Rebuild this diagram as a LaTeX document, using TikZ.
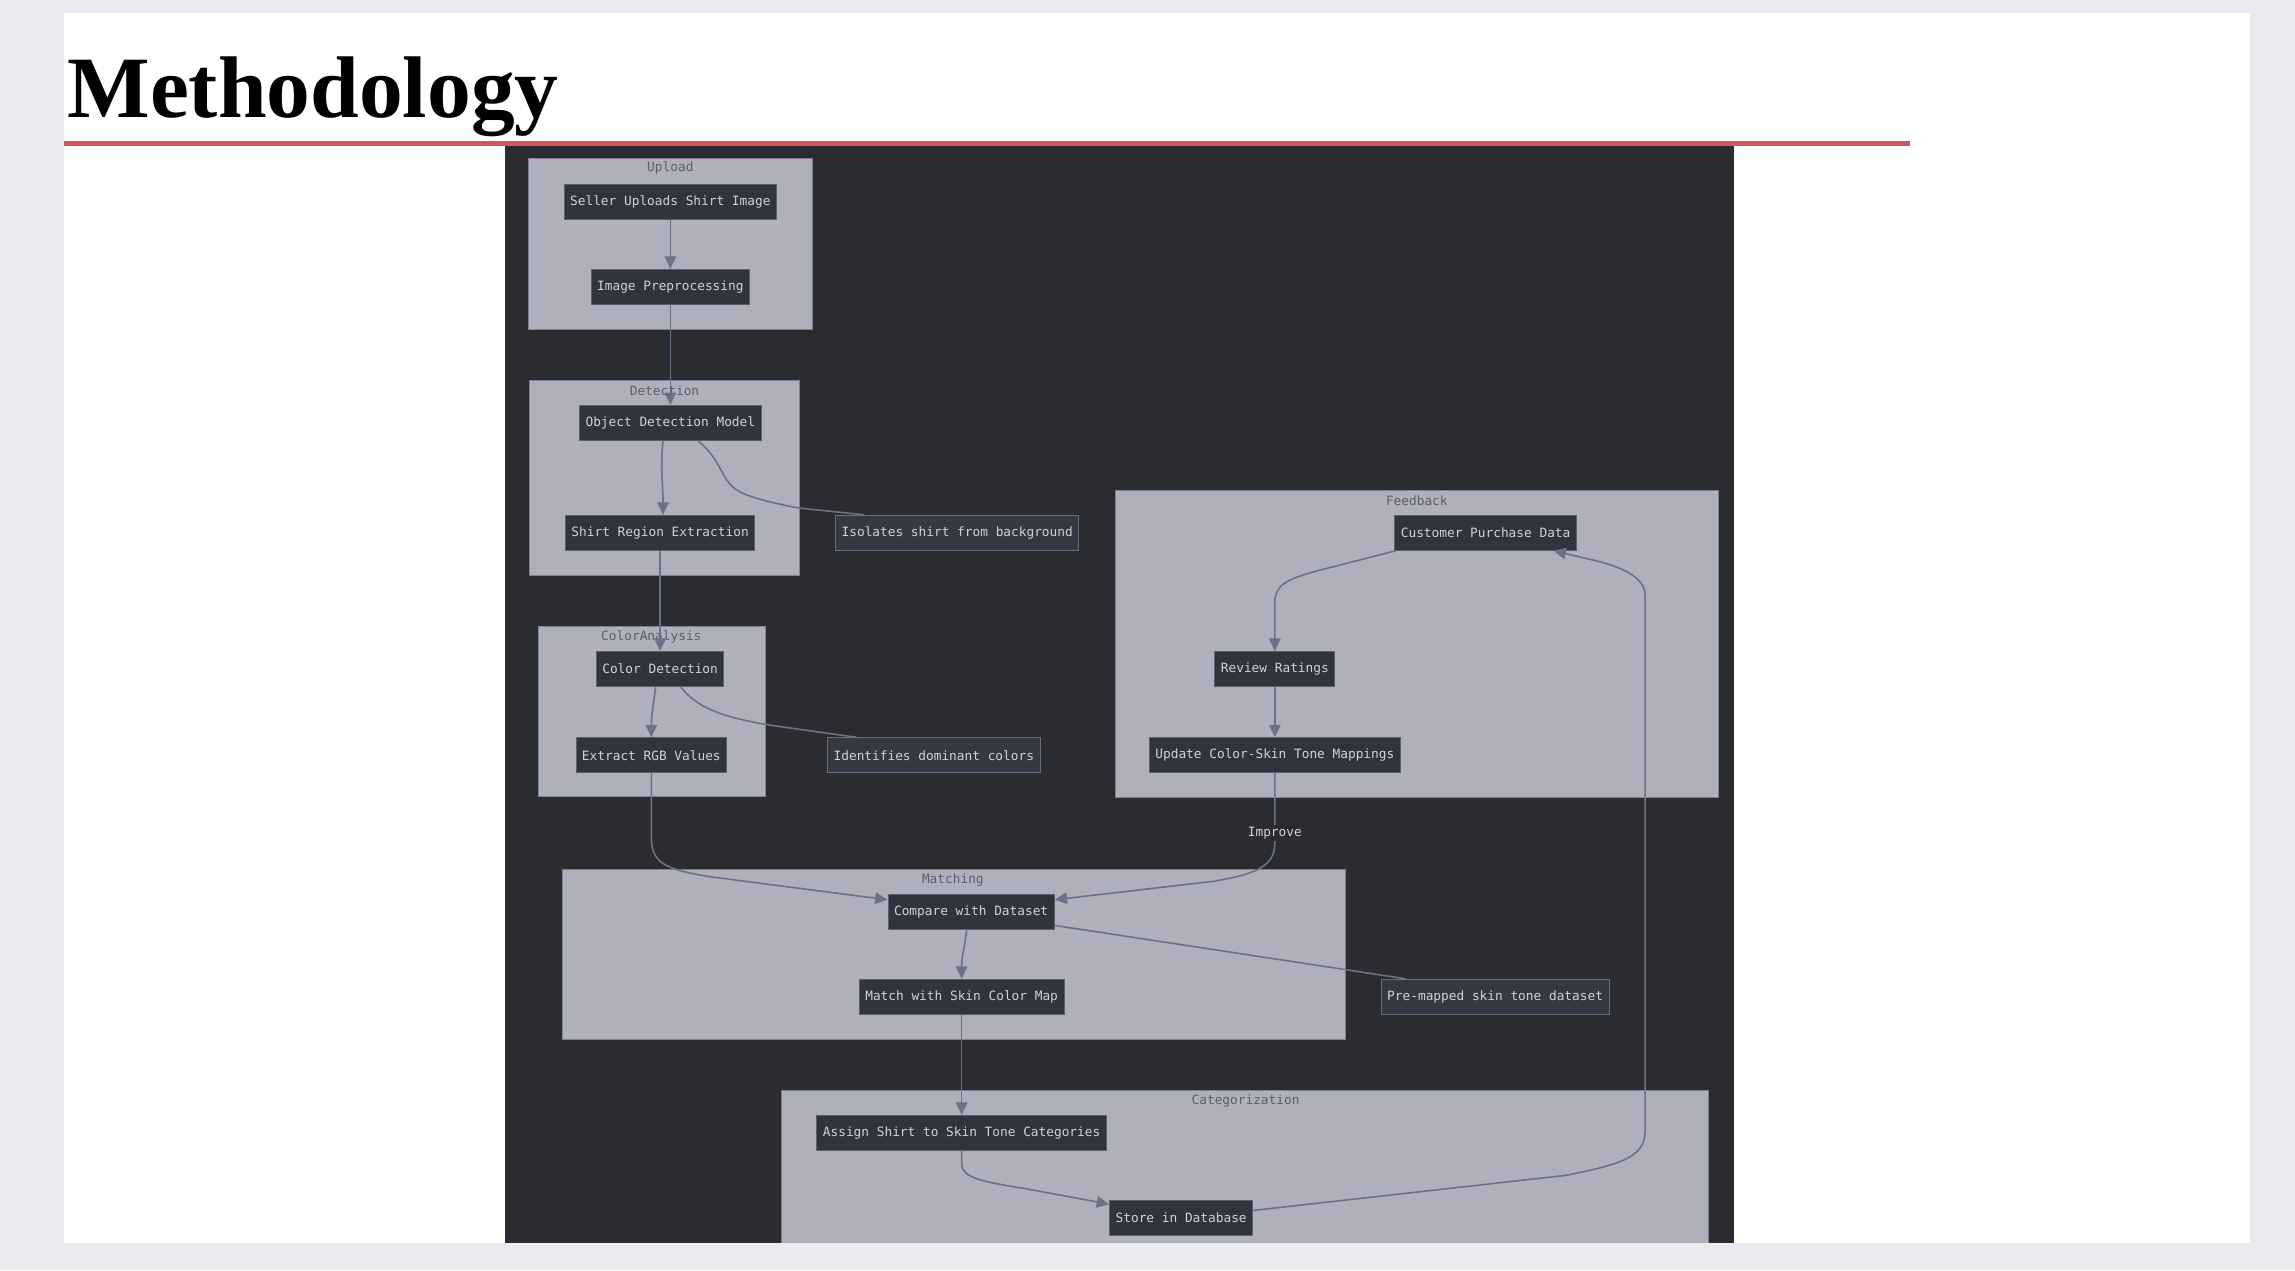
\documentclass[tikz,border=0pt]{standalone}
\usepackage{fontspec}
\usetikzlibrary{arrows.meta,calc}
\newfontfamily\titlefont{Liberation Serif}
\newfontfamily\monofont{DejaVu Sans Mono}
\definecolor{outerbg}{HTML}{E9EAEE}
\definecolor{redline}{HTML}{D2545E}
\definecolor{panel}{HTML}{2B2C31}
\definecolor{grpfill}{HTML}{AFB0BB}
\definecolor{grpborder}{HTML}{7E8193}
\definecolor{grptext}{HTML}{5C5E6B}
\definecolor{nodefill}{HTML}{32343D}
\definecolor{nodeborder}{HTML}{5C5F6E}
\definecolor{notefill}{HTML}{363843}
\definecolor{noteborder}{HTML}{6A6D7E}
\definecolor{nodetext}{HTML}{D2D2D4}
\definecolor{edgecol}{HTML}{6E7185}
\tikzset{
  box/.style={draw=nodeborder, fill=nodefill, text=nodetext, line width=0.9pt,
    font=\monofont\fontsize{12.8}{14}\selectfont, inner xsep=6pt, inner ysep=0pt, minimum height=35pt},
  notebox/.style={box, draw=noteborder, fill=notefill},
  grp/.style={draw=grpborder, fill=grpfill, line width=1pt},
  grplabel/.style={text=grptext, font=\monofont\fontsize{12.8}{14}\selectfont, inner sep=0pt},
  edge/.style={draw=edgecol, line width=1.6pt, -{Triangle[length=12.5pt,width=11.5pt]}},
  link/.style={draw=edgecol, line width=1.6pt},
  lbl/.style={fill=panel, text=nodetext, font=\monofont\fontsize{12.8}{14}\selectfont, inner sep=2pt}
}
\begin{document}
\begin{tikzpicture}[x=1.4636pt,y=-1.4636pt]
\useasboundingbox (0,0) rectangle (1568,868);
\fill[outerbg] (0,0) rectangle (1568,868);
\fill[white] (44,9) rectangle (1537,849);
\node[anchor=base west, inner sep=0pt, font=\titlefont\bfseries\fontsize{87.5}{90}\selectfont] (title) at (46,80) {Methodology};
\fill[redline] (44,96.5) rectangle (1305,99.5);
\fill[panel] (345,99.5) rectangle (1185,849);

% subgraphs
\draw[grp] (361,108) rectangle (555,225);
\node[grplabel] (lupload) at (458,115) {Upload};
\draw[grp] (362,260) rectangle (546,393);
\node[grplabel] (ldetect) at (454,267) {Detection};
\draw[grp] (368,428) rectangle (523,544);
\node[grplabel] (lcolor) at (445,435) {ColorAnalysis};
\draw[grp] (762,335) rectangle (1174,545);
\node[grplabel] (lfeed) at (968,342) {Feedback};
\draw[grp] (384,594) rectangle (919,710);
\node[grplabel] (lmatch) at (651,601) {Matching};
\fill[grpfill] (534,745) rectangle (1167,849);
\draw[grpborder, line width=1pt] (534,849) -- (534,745) -- (1167,745) -- (1167,849);
\node[grplabel] (lcat) at (851,752) {Categorization};

% nodes
\node[box] (seller) at (458,138) {Seller Uploads Shirt Image};
\node[box] (prep) at (458,196) {Image Preprocessing};
\node[box] (odm) at (458,289) {Object Detection Model};
\node[box] (sre) at (451,364) {Shirt Region Extraction};
\node[notebox] (iso) at (654,364) {Isolates shirt from background};
\node[box] (cd) at (451,457) {Color Detection};
\node[box] (ergb) at (445,516) {Extract RGB Values};
\node[notebox] (idc) at (638,516) {Identifies dominant colors};
\node[box] (cpd) at (1015,364) {Customer Purchase Data};
\node[box] (rev) at (871,457) {Review Ratings};
\node[box] (upd) at (871,516) {Update Color-Skin Tone Mappings};
\node[box] (cmp) at (663.5,623) {Compare with Dataset};
\node[box] (match) at (657,681) {Match with Skin Color Map};
\node[notebox] (pre) at (1021.5,681) {Pre-mapped skin tone dataset};
\node[box] (assign) at (657,774) {Assign Shirt to Skin Tone Categories};
\node[box] (store) at (807,832) {Store in Database};

% edges
\draw[edge] (seller.south) -- (prep.north);
\draw[edge] (prep.south) -- (odm.north);
\draw[edge] ($(odm.south)+(-5,0)$) .. controls +(-2,18) and +(0,-20) .. ($(sre.north)+(2,0)$);
\draw[link] ($(odm.south)+(19,0)$) .. controls (490,312) and (492,322) .. (498,330)
   .. controls (504,338) and (520,342) .. (545,347) -- ($(iso.north west)+(20,0)$);
\draw[edge] (sre.south) -- (cd.north);
\draw[edge] ($(cd.south)+(-3,0)$) .. controls +(-2,15) and +(0,-15) .. (ergb.north);
\draw[link] ($(cd.south)+(14,0)$) .. controls (475,482) and (490,490) .. (530,496) -- ($(idc.north west)+(20,0)$);
\draw[edge] (ergb.south) -- (445,572) .. controls (445,590) and (455,594) .. (485,599) -- ($(cmp.north west)+(0,4)$);
\draw[edge] (upd.south) -- (871,576) .. controls (871,592) and (858,597) .. (830,602) -- ($(cmp.north east)+(0,4)$);
\node[lbl] (improve) at (871,569) {Improve};
\draw[edge] ($(cmp.south)+(-3,0)$) .. controls +(-2,15) and +(0,-15) .. (match.north);
\draw[link] ($(cmp.south east)+(0,-3)$) -- ($(pre.north west)+(17,0)$);
\draw[edge] (match.south) -- (assign.north);
\draw[edge] (assign.south) -- (657,795) .. controls (657,804) and (668,807) .. (700,812) -- ($(store.north west)+(0,3)$);
\draw[edge] ($(store.east)+(0,-5)$) -- (1070,803) .. controls (1110,795) and (1124,790) .. (1124,772)
   -- (1124,407) .. controls (1124,395) and (1110,388) .. (1090,383) -- ($(cpd.south east)+(-16,0)$);
\draw[edge] ($(cpd.south west)+(1,0)$) -- (900,390) .. controls (878,396) and (871,400) .. (871,412) -- (rev.north);
\draw[edge] (rev.south) -- (upd.north);
\end{tikzpicture}
\end{document}
